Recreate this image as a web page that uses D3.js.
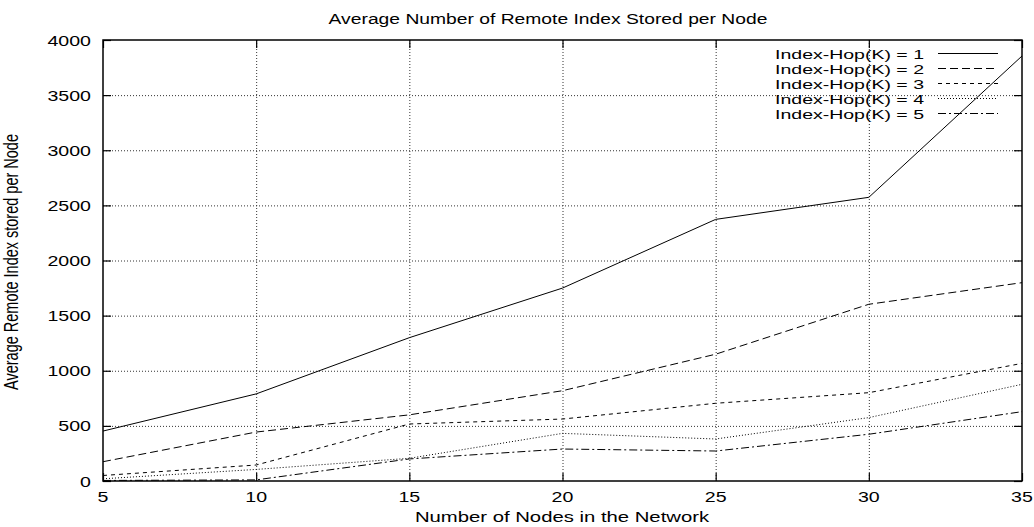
<!DOCTYPE html>
<html><head><meta charset="utf-8">
<script src="https://cdn.jsdelivr.net/npm/d3@7"></script>
<style>body{margin:0;background:#fff}svg{display:block}text{font-family:"Liberation Sans",Arial,sans-serif;fill:#000}</style>
</head><body><svg id="c" width="1034" height="527"></svg>
<script>
const nodes = [5, 10, 15, 20, 25, 30, 35];
const seriesNames = ["Index-Hop(K) = 1","Index-Hop(K) = 2","Index-Hop(K) = 3","Index-Hop(K) = 4","Index-Hop(K) = 5"];
const k1 = [453, 790, 1300, 1750, 2373, 2573, 3855];
const k2 = [175, 444, 600, 819, 1150, 1603, 1799];
const k3 = [50, 145, 517, 562, 705, 801, 1067];
const k4 = [20, 105, 206, 432, 381, 575, 877];
const k5 = [5, 10, 200, 290, 272, 424, 629];
const xTicks = [5, 10, 15, 20, 25, 30, 35];
const yTicks = [0, 500, 1000, 1500, 2000, 2500, 3000, 3500, 4000];
const dashes = [null, "8,4", "4,4", "1,2", "8,3,2,3"];
const allSeries = [k1, k2, k3, k4, k5];

const SX = 1.35, FS = 14.5;
const svg = d3.select("#c");
const L = 103, R = 1022, T = 40, B = 481;
const x = d3.scaleLinear().domain([5, 35]).range([L, R]);
const y = d3.scaleLinear().domain([0, 4000]).range([B, T]);

function stext(px, py, str, anchor, size, sx) {
  return svg.append("text").attr("transform", `translate(${px},${py}) scale(${sx || SX},1)`)
    .attr("text-anchor", anchor).attr("font-size", size || FS).text(str);
}

// grid
const g = svg.append("g");
g.selectAll(".gx").data(xTicks.slice(1, -1)).join("line")
  .attr("x1", d => x(d) + 0.5).attr("x2", d => x(d) + 0.5).attr("y1", T).attr("y2", B)
  .attr("stroke", "#333").attr("stroke-width", 1).attr("stroke-dasharray", "1,2");
g.selectAll(".gy").data(yTicks.slice(1, -1)).join("line")
  .attr("y1", d => y(d) + 0.5).attr("y2", d => y(d) + 0.5).attr("x1", L).attr("x2", R)
  .attr("stroke", "#333").attr("stroke-width", 1).attr("stroke-dasharray", "1,2");

// axes with mirrored inner ticks
const ax = svg.append("g");
ax.append("g").attr("transform", `translate(0,${B})`)
  .call(d3.axisBottom(x).tickValues(xTicks).tickSize(-8).tickFormat(""));
ax.append("g").attr("transform", `translate(0,${T})`)
  .call(d3.axisTop(x).tickValues(xTicks).tickSize(-8).tickFormat(""));
ax.append("g").attr("transform", `translate(${L},0)`)
  .call(d3.axisLeft(y).tickValues(yTicks).tickSize(-8).tickFormat(""));
ax.append("g").attr("transform", `translate(${R},0)`)
  .call(d3.axisRight(y).tickValues(yTicks).tickSize(-8).tickFormat(""));
ax.selectAll(".domain").remove();
ax.selectAll("line").attr("stroke", "#000").attr("stroke-width", 1.2);
svg.append("rect").attr("x", L).attr("y", T).attr("width", R - L).attr("height", B - T)
  .attr("fill", "none").attr("stroke", "#000").attr("stroke-width", 1.5);

// tick labels
xTicks.forEach(v => stext(x(v), 502, String(v), "middle"));
yTicks.forEach(v => stext(91, y(v) + 5.5, String(v), "end"));

// lines
const line = d3.line().x((d, i) => x(nodes[i])).y(d => y(d));
allSeries.forEach((s, i) => {
  svg.append("path").datum(s).attr("d", line).attr("fill", "none")
    .attr("stroke", "#000").attr("stroke-width", 1)
    .attr("stroke-dasharray", dashes[i]);
});

// legend
seriesNames.forEach((n, i) => {
  const ly = 53.5 + i * 15;
  stext(924, ly + 5, n, "end", 13, 1.5);
  svg.append("line").attr("x1", 938).attr("x2", 998).attr("y1", ly).attr("y2", ly)
    .attr("stroke", "#000").attr("stroke-width", 1).attr("stroke-dasharray", dashes[i]);
});

// titles
stext(548, 24, "Average Number of Remote Index Stored per Node", "middle", 14.5, 1.33);
stext(562, 521.5, "Number of Nodes in the Network", "middle", 14.5, 1.4);
svg.append("text").attr("transform", `translate(18,262) scale(${SX},1) rotate(-90)`)
  .attr("text-anchor", "middle").attr("font-size", FS).text("Average Remote Index stored per Node");
</script></body></html>
